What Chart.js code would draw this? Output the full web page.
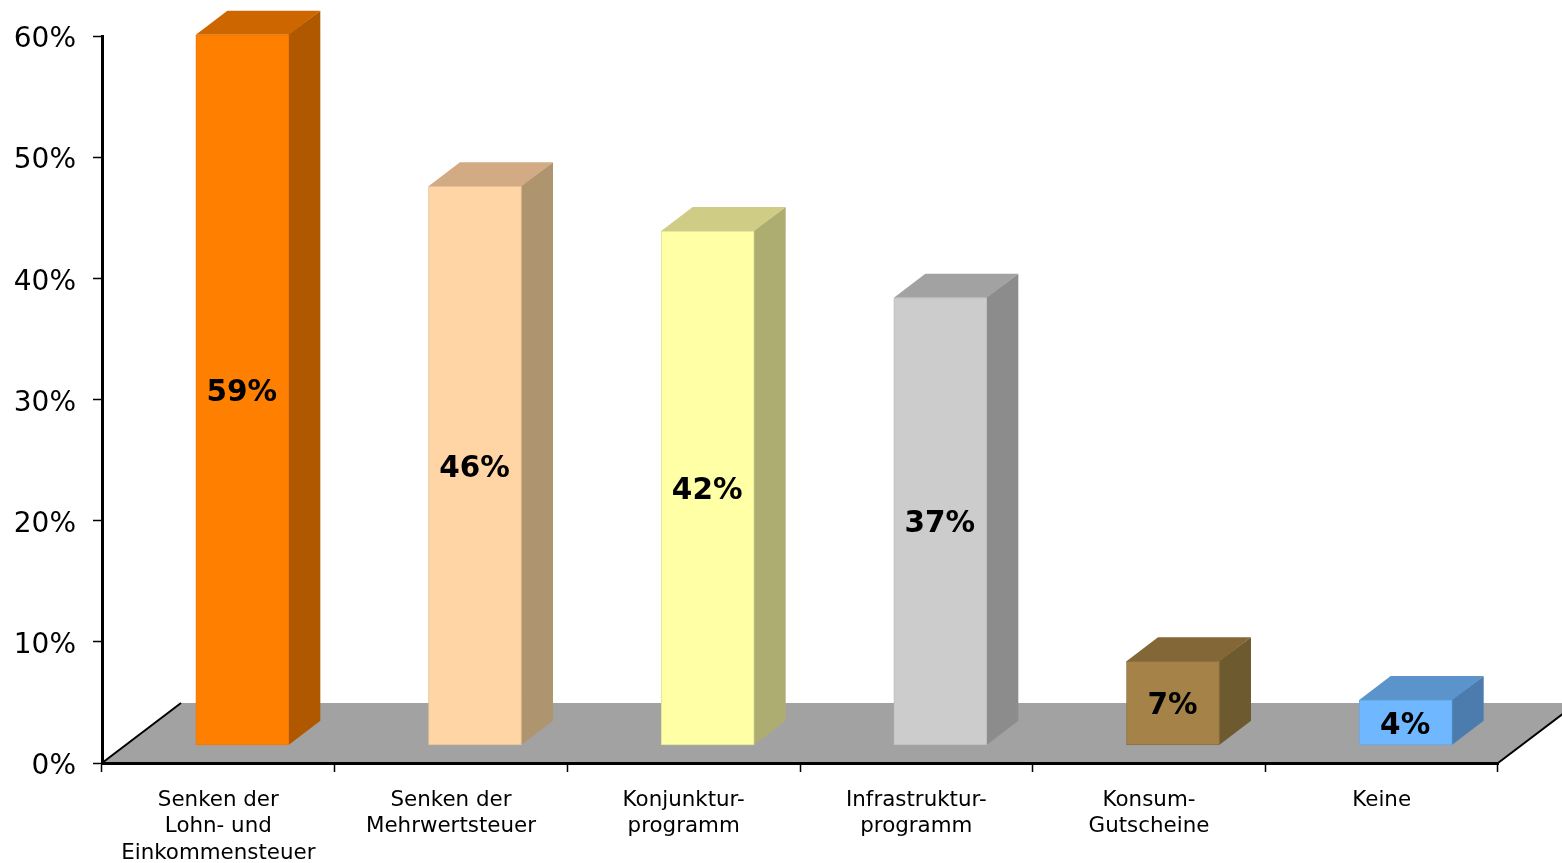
<!DOCTYPE html>
<html>
<head>
<meta charset="utf-8">
<title>Chart</title>
<script src="https://cdn.jsdelivr.net/npm/chart.js@4/dist/chart.umd.min.js"></script>
<style>
html, body { margin: 0; padding: 0; background: #fff; overflow: hidden; }
canvas { display: block; }
</style>
</head>
<body>
<canvas id="chart1" width="1562" height="863"></canvas>
<script>
const categories = [
    ["Senken der", "Lohn- und", "Einkommensteuer"],
    ["Senken der", "Mehrwertsteuer"],
    ["Konjunktur-", "programm"],
    ["Infrastruktur-", "programm"],
    ["Konsum-", "Gutscheine"],
    ["Keine"]
];
const values = [58.6, 46.1, 42.4, 36.9, 6.9, 3.7];
const yTicks = [0, 10, 20, 30, 40, 50, 60];
const floorLift = 1.5; // bars stand this far above the axis, on the floor

const frontColors = ["#ff7f00", "#ffd5a5", "#ffffa5", "#cccccc", "#a58248", "#6fb7ff"];
const topColors = ["#ce6600", "#d2aa83", "#cfcc86", "#a2a2a2", "#846737", "#5b94ca"];
const sideColors = ["#b05800", "#af9470", "#adad71", "#8c8c8c", "#6e5a2f", "#4c7bae"];
const edgeColors = ["#f07a05", "#e6c193", "#e0e09a", "#bdbdbd", "#8f7040", "#66a8ea"];

const barShift = 24;
const depthX = 31.5;
const depthY = 24;
const floorDepthX = 79;
const floorDepthY = 60;
const fontName = "'DejaVu Sans', Verdana, sans-serif";

const poly = (ctx, color, pts) => {
    ctx.fillStyle = color;
    ctx.beginPath();
    pts.forEach((p, i) => i ? ctx.lineTo(p[0], p[1]) : ctx.moveTo(p[0], p[1]));
    ctx.closePath();
    ctx.fill();
};

const line = (ctx, x1, y1, x2, y2) => {
    ctx.beginPath();
    ctx.moveTo(x1, y1);
    ctx.lineTo(x2, y2);
    ctx.stroke();
};

// grey floor goes under the axes
const floorPlugin = {
    id: "floor",
    beforeDraw: chart => {
        const ctx = chart.ctx;
        const a = chart.chartArea;
        ctx.save();
        poly(ctx, "#a2a2a2", [
            [a.left, a.bottom],
            [a.left + floorDepthX, a.bottom - floorDepthY],
            [a.right + floorDepthX, a.bottom - floorDepthY],
            [a.right, a.bottom]
        ]);
        ctx.strokeStyle = "#000";
        ctx.lineWidth = 2;
        line(ctx, a.left, a.bottom, a.left + floorDepthX, a.bottom - floorDepthY);
        line(ctx, a.right, a.bottom, a.right + floorDepthX, a.bottom - floorDepthY);
        ctx.restore();
    }
};

// y labels are drawn here so they can sit a little lower than the tick marks
const yLabelPlugin = {
    id: "yLabels",
    afterDraw: chart => {
        const ctx = chart.ctx;
        const y = chart.scales.y;
        ctx.save();
        ctx.fillStyle = "#000";
        ctx.font = "28px " + fontName;
        ctx.textAlign = "right";
        ctx.textBaseline = "middle";
        yTicks.forEach(v => ctx.fillText(v + "%", 76, y.getPixelForValue(v) + 4));
        ctx.restore();
    }
};

// top and side faces of each box, then the bars themselves are shifted right
const boxPlugin = {
    id: "box",
    beforeDatasetsDraw: chart => {
        const ctx = chart.ctx;
        chart.getDatasetMeta(0).data.forEach((bar, i) => {
            const left = bar.x - bar.width / 2 + barShift;
            const right = bar.x + bar.width / 2 + barShift;
            const top = bar.y;
            const bottom = bar.base;
            poly(ctx, sideColors[i], [
                [right - 1, top],
                [right + depthX, top - depthY],
                [right + depthX, bottom - depthY],
                [right, bottom],
                [right - 1, bottom]
            ]);
            poly(ctx, topColors[i], [
                [left, top],
                [left + depthX, top - depthY],
                [right + depthX, top - depthY],
                [right, top]
            ]);
        });
    },
    beforeDatasetDraw: chart => {
        chart.ctx.save();
        chart.ctx.translate(barShift, 0);
    },
    afterDatasetDraw: chart => {
        chart.ctx.restore();
    },
    afterDatasetsDraw: chart => {
        const ctx = chart.ctx;
        ctx.save();
        ctx.fillStyle = "#000";
        ctx.font = "bold 29.5px " + fontName;
        ctx.textAlign = "center";
        ctx.textBaseline = "middle";
        chart.getDatasetMeta(0).data.forEach((bar, i) => {
            ctx.fillText(Math.round(values[i]) + "%", bar.x + barShift - 0.5, (bar.y + bar.base) / 2 + 3.5);
        });
        ctx.restore();
    }
};

new Chart(document.getElementById("chart1").getContext("2d"), {
    type: "bar",
    data: {
        labels: categories,
        datasets: [{
            data: values.map(v => [floorLift, floorLift + v]),
            backgroundColor: frontColors,
            borderColor: edgeColors,
            borderWidth: 1,
            borderSkipped: false,
            barThickness: 93,
            clip: false
        }]
    },
    options: {
        responsive: false,
        animation: false,
        layout: { padding: { top: 36, right: 64, bottom: 0, left: 0 } },
        plugins: { legend: { display: false }, tooltip: { enabled: false } },
        scales: {
            x: {
                afterFit: scale => { scale.height = 100; },
                grid: { drawOnChartArea: false, tickLength: 9, tickColor: "#000", tickWidth: 1.5 },
                border: { color: "#000", width: 3 },
                ticks: {
                    color: "#000",
                    maxRotation: 0,
                    autoSkip: false,
                    padding: 15,
                    font: { family: fontName, size: 21.4, lineHeight: 1.24 }
                }
            },
            y: {
                min: 0,
                max: 60,
                afterFit: scale => { scale.width = 102; },
                afterBuildTicks: scale => { scale.ticks = yTicks.map(v => ({ value: v })); },
                grid: { drawOnChartArea: false, tickLength: 9, tickColor: "#000", tickWidth: 1.5 },
                border: { color: "#000", width: 3 },
                ticks: { display: false }
            }
        }
    },
    plugins: [floorPlugin, boxPlugin, yLabelPlugin]
});
</script>
</body>
</html>
